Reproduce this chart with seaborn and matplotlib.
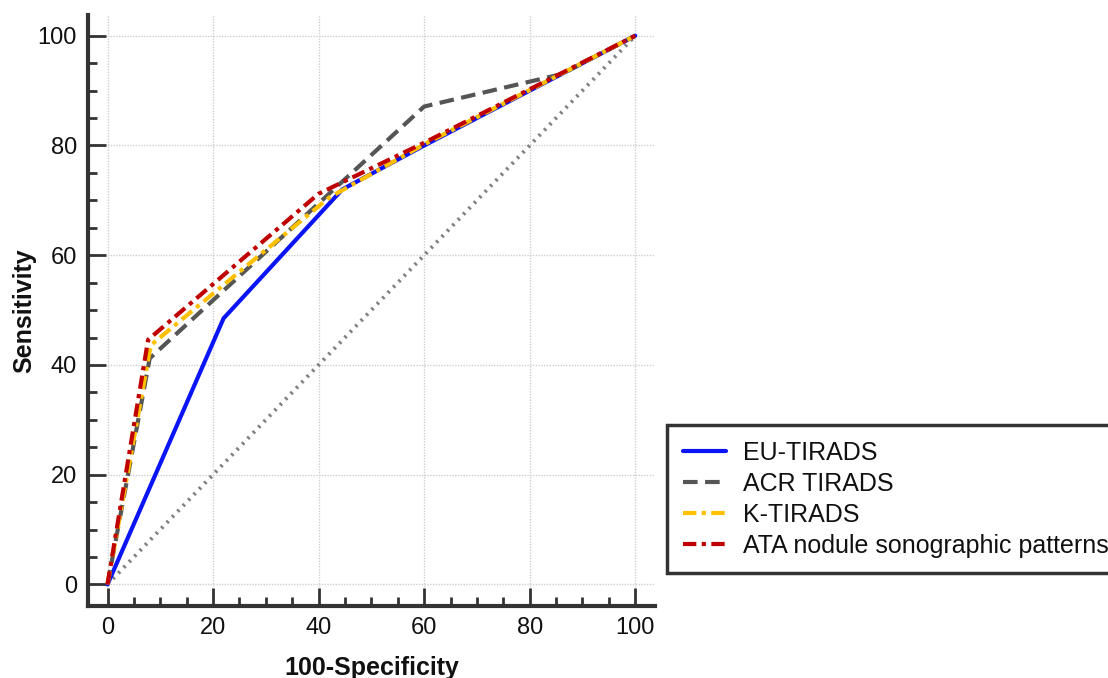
import matplotlib
matplotlib.use("Agg")
import matplotlib.pyplot as plt
from matplotlib.ticker import MultipleLocator
import seaborn as sns
import pandas as pd

# ROC curve points (100-Specificity, Sensitivity)
eu_x = [0, 22, 44.5, 60, 100]
eu_y = [0, 48.5, 72, 80, 100]
acr_x = [0, 8, 60, 86, 100]
acr_y = [0, 41.2, 87.1, 93, 100]
k_x = [0, 8.2, 42, 60, 100]
k_y = [0, 43.6, 70.5, 80.2, 100]
ata_x = [0, 7.7, 40, 60, 100]
ata_y = [0, 44.6, 71.2, 80.5, 100]
ref_x = [0, 100]
ref_y = [0, 100]

labels = ["EU-TIRADS", "ACR TIRADS", "K-TIRADS", "ATA nodule sonographic patterns"]
x_ticks = [0, 20, 40, 60, 80, 100]
y_ticks = [0, 20, 40, 60, 80, 100]

sns.set_style("white")
plt.rcParams["font.family"] = ["Liberation Sans", "DejaVu Sans"]

fig = plt.figure(figsize=(11.08, 6.78), dpi=100)
ax = fig.add_axes([0.0794, 0.106, 0.512, 0.872])

spine_c = "#333333"

sns.lineplot(x=ref_x, y=ref_y, ax=ax, color="#808080", lw=2.8,
             linestyle=(0, (0.6, 1.4)), dash_capstyle="butt", sort=False)
series = [
    (eu_x, eu_y, labels[0], "#0a14f5", "-"),
    (acr_x, acr_y, labels[1], "#555555", (0, (3.5, 1.8))),
    (k_x, k_y, labels[2], "#ffc000", (0, (3.2, 1.3, 1.0, 1.3))),
    (ata_x, ata_y, labels[3], "#c00000", (0, (3.2, 1.3, 1.0, 1.3))),
]
handles = []
for xs, ys, lab, col, ls in series:
    df = pd.DataFrame({"x": xs, "y": ys})
    sns.lineplot(data=df, x="x", y="y", ax=ax, color=col, lw=3.0,
                 linestyle=ls, sort=False, label=lab, legend=False)
    handles.append(ax.lines[-1])

ax.set_xlim(-3.7, 103.8)
ax.set_ylim(-3.96, 103.8)
ax.set_xticks(x_ticks)
ax.set_yticks(y_ticks)
ax.xaxis.set_minor_locator(MultipleLocator(5))
ax.yaxis.set_minor_locator(MultipleLocator(5))
ax.tick_params(which="both", bottom=True, left=True, top=False, right=False)
ax.tick_params(which="major", direction="in", length=13, width=2, color=spine_c,
               labelsize=17, pad=8, labelcolor="#111111")
ax.tick_params(which="minor", direction="in", length=6.5, width=2, color=spine_c)
ax.grid(True, which="major", color="#cfcfcf", lw=1.0, linestyle=(0, (1, 1)))
ax.set_axisbelow(True)
for s in ["top", "right"]:
    ax.spines[s].set_visible(False)
for s in ["left", "bottom"]:
    ax.spines[s].set_color(spine_c)
    ax.spines[s].set_linewidth(3)

ax.set_xlabel("100-Specificity", fontsize=18, fontweight="bold", labelpad=12,
              color="#111111")
ax.set_ylabel("Sensitivity", fontsize=18, fontweight="bold", labelpad=1,
              color="#111111")

leg = fig.legend(handles=handles, labels=labels, loc="upper left",
                 bbox_to_anchor=(0.602, 0.373), fontsize=18, frameon=True,
                 fancybox=False, framealpha=1, handlelength=1.75, handletextpad=0.65,
                 labelspacing=0.28, borderpad=0.62, borderaxespad=0)
leg.get_frame().set_edgecolor(spine_c)
leg.get_frame().set_linewidth(2.5)
for t in leg.get_texts():
    t.set_color("#111111")

fig.savefig("out.png", dpi=100)
